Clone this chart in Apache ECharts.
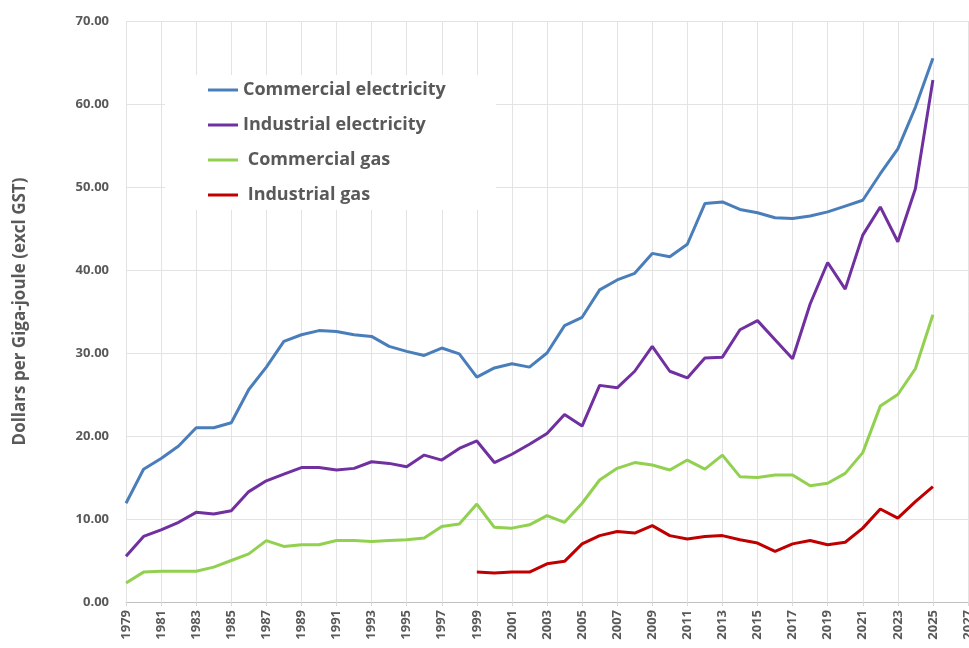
<!DOCTYPE html>
<html>
<head>
  <meta charset="utf-8">
  <title>Energy prices per GJ</title>
  <script src="https://cdn.jsdelivr.net/npm/echarts@6/dist/echarts.min.js"></script>
  <style>
    html, body { margin: 0; padding: 0; background: #fff; }
    #chart { width: 969px; height: 648px; }
  </style>
</head>
<body>
<div id="chart"></div>
<script>
// years on the x axis (last one has no data)
var years = [];
for (var y = 1979; y <= 2027; y++) { years.push(String(y)); }

var commercialElec = [11.9, 16.0, 17.3, 18.8, 21.0, 21.0, 21.6, 25.6, 28.3, 31.4,
  32.2, 32.7, 32.6, 32.2, 32.0, 30.8, 30.2, 29.7, 30.6, 29.9,
  27.1, 28.2, 28.7, 28.3, 30.0, 33.3, 34.3, 37.6, 38.8, 39.6,
  42.0, 41.6, 43.1, 48.0, 48.2, 47.3, 46.9, 46.3, 46.2, 46.5,
  47.0, 47.7, 48.4, 51.6, 54.6, 59.6, 65.5];

var industrialElec = [5.5, 7.9, 8.7, 9.6, 10.8, 10.6, 11.0, 13.3, 14.6, 15.4,
  16.2, 16.2, 15.9, 16.1, 16.9, 16.7, 16.3, 17.7, 17.1, 18.5,
  19.4, 16.8, 17.8, 19.0, 20.3, 22.6, 21.2, 26.1, 25.8, 27.8,
  30.8, 27.8, 27.0, 29.4, 29.5, 32.8, 33.9, 31.6, 29.3, 35.9,
  40.9, 37.7, 44.2, 47.6, 43.4, 49.8, 62.9];

var commercialGas = [2.3, 3.6, 3.7, 3.7, 3.7, 4.2, 5.0, 5.8, 7.4, 6.7,
  6.9, 6.9, 7.4, 7.4, 7.3, 7.4, 7.5, 7.7, 9.1, 9.4,
  11.8, 9.0, 8.9, 9.3, 10.4, 9.6, 11.9, 14.7, 16.1, 16.8,
  16.5, 15.9, 17.1, 16.0, 17.7, 15.1, 15.0, 15.3, 15.3, 14.0,
  14.3, 15.5, 18.0, 23.6, 25.0, 28.1, 34.6];

// industrial gas only from 1999
var industrialGas = [null, null, null, null, null, null, null, null, null, null,
  null, null, null, null, null, null, null, null, null, null,
  3.6, 3.5, 3.6, 3.6, 4.6, 4.9, 7.0, 8.0, 8.5, 8.3,
  9.2, 8.0, 7.6, 7.9, 8.0, 7.5, 7.1, 6.1, 7.0, 7.4,
  6.9, 7.2, 8.9, 11.2, 10.1, 12.1, 13.9];

var textColor = '#595959';
var font = '"Open Sans", "Noto Sans", sans-serif';

function lineSeries(name, data, color) {
  return {
    name: name,
    type: 'line',
    data: data,
    symbol: 'none',
    connectNulls: false,
    lineStyle: { width: 3, color: color },
    itemStyle: { color: color }
  };
}

var myChart = echarts.init(document.getElementById('chart'));
var option = {
  animation: false,
  grid: { left: 126, right: 1, top: 21, bottom: 46, outerBoundsMode: 'none', containLabel: false },
  legend: {
    orient: 'vertical',
    left: 165,
    top: 75,
    backgroundColor: '#ffffff',
    padding: [4, 50, 4, 43],
    itemGap: 13,
    itemWidth: 30,
    itemHeight: 3,
    icon: 'rect',
    textStyle: { color: textColor, fontSize: 18, lineHeight: 22, fontWeight: 'bold', fontFamily: font },
    data: ['Commercial electricity', 'Industrial electricity', ' Commercial gas', ' Industrial gas']
  },
  xAxis: {
    type: 'category',
    data: years,
    boundaryGap: false,
    axisLine: { lineStyle: { color: '#bfbfbf', width: 1 } },
    axisTick: { show: true, interval: 1, length: 4, lineStyle: { color: '#d9d9d9' } },
    axisLabel: {
      interval: 1,
      rotate: 90,
      margin: 8,
      color: textColor,
      fontSize: 13,
      fontWeight: 'bold',
      fontFamily: font
    },
    splitLine: { show: true, interval: 1, lineStyle: { color: '#e3e3e3', width: 1 } }
  },
  yAxis: {
    type: 'value',
    min: 0,
    max: 70,
    interval: 10,
    name: 'Dollars per Giga-joule (excl GST)',
    nameLocation: 'middle',
    nameGap: 97,
    nameTextStyle: { color: textColor, fontSize: 17, fontWeight: 'bold', fontFamily: font },
    axisLine: { show: false },
    axisTick: { show: false },
    axisLabel: {
      margin: 17,
      color: textColor,
      fontSize: 13,
      fontWeight: 'bold',
      fontFamily: font,
      formatter: function (v) { return v.toFixed(2); }
    },
    splitLine: { lineStyle: { color: '#e3e3e3', width: 1 } }
  },
  series: [
    lineSeries('Commercial electricity', commercialElec, '#4a7ebb'),
    lineSeries('Industrial electricity', industrialElec, '#7030a0'),
    lineSeries(' Commercial gas', commercialGas, '#92d050'),
    lineSeries(' Industrial gas', industrialGas, '#c00000')
  ]
};
myChart.setOption(option);
</script>
</body>
</html>
